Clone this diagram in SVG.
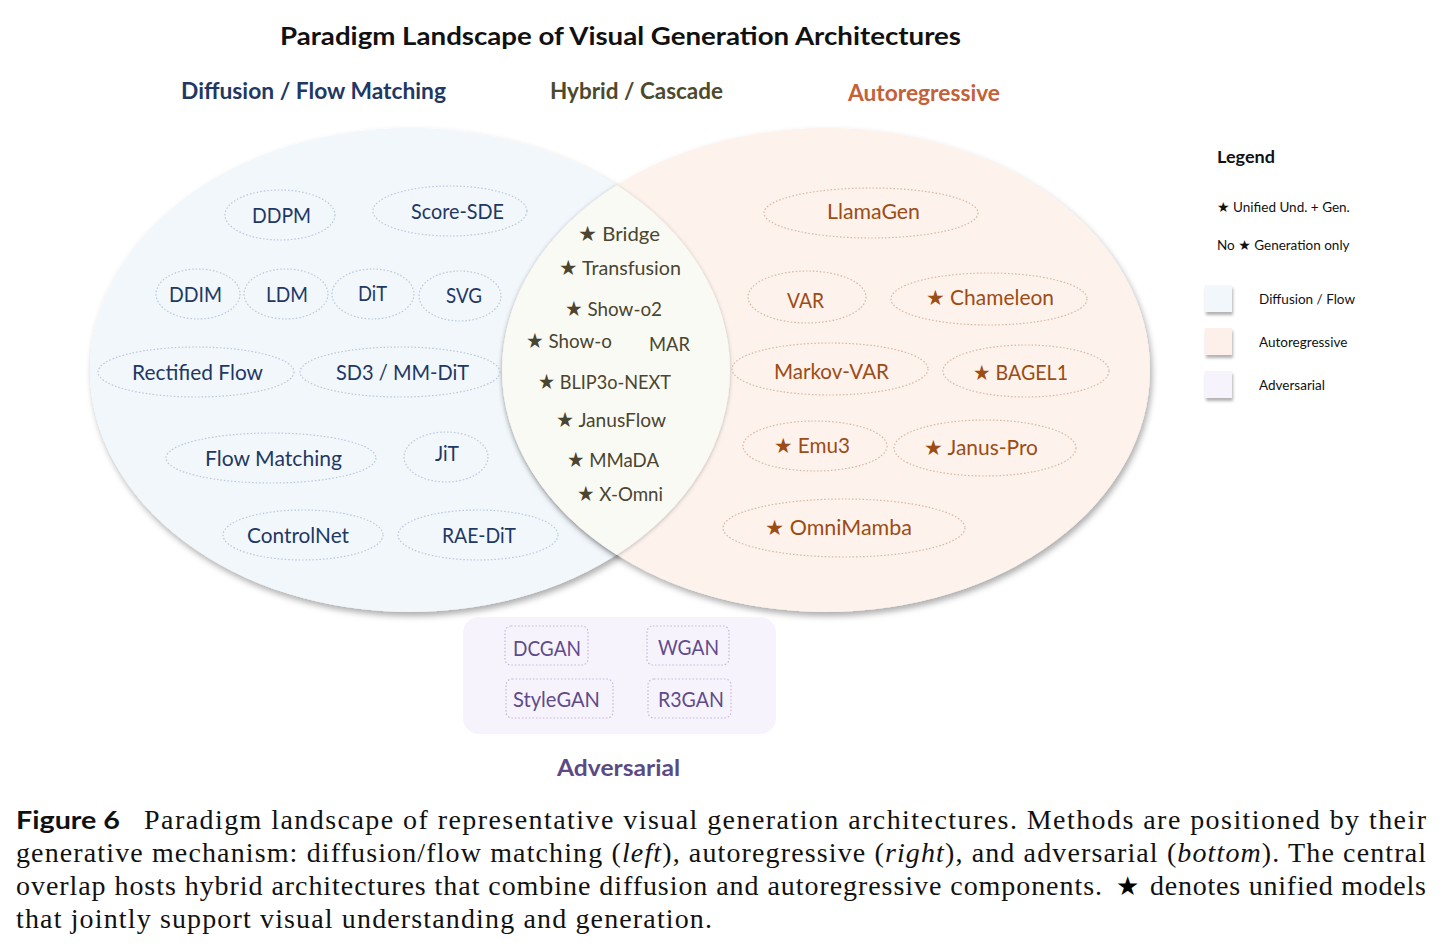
<svg xmlns="http://www.w3.org/2000/svg" width="1443" height="950" viewBox="0 0 1443 950">
<defs>
<filter id="sh" x="-10%" y="-10%" width="125%" height="130%"><feDropShadow dx="2" dy="4" stdDeviation="3" flood-color="#000" flood-opacity="0.32"/></filter>
<filter id="sh2" x="-20%" y="-10%" width="140%" height="125%"><feDropShadow dx="0" dy="1" stdDeviation="2" flood-color="#000" flood-opacity="0.25"/></filter>
<filter id="shs" x="-30%" y="-30%" width="170%" height="170%"><feDropShadow dx="1" dy="3" stdDeviation="1.5" flood-color="#000" flood-opacity="0.3"/></filter>
<style>
text{font-family:Lato,"DejaVu Sans",sans-serif}
.hd{font-weight:bold;font-size:22px}
.nl{fill:none;stroke:#b9c7d9;stroke-width:1.2;stroke-dasharray:1.5 2}
.nr{fill:none;stroke:#d8b6a2;stroke-width:1.2;stroke-dasharray:1.5 2}
.na{fill:none;stroke:#c3b8d6;stroke-width:1.2;stroke-dasharray:1.5 2}
.tl{fill:#1f3864;font-size:21px}
.tr{fill:#9c4c15;font-size:21px}
.tc{fill:#4a4530;font-size:20px}
.ta{fill:#5f4b8b;font-size:21px}
.st{font-family:"DejaVu Sans",sans-serif;font-size:21px}
.lst{font-family:"DejaVu Sans",sans-serif;font-size:14px}
.lg{fill:#111;font-size:13.5px}
.cap{font-family:"Liberation Serif",serif;font-size:28px;fill:#111}
</style>
</defs>
<rect width="1443" height="950" fill="#fff"/>

<g id="title">
<text x="280" y="45" font-size="25" font-weight="bold" fill="#111" textLength="681" lengthAdjust="spacingAndGlyphs">Paradigm Landscape of Visual Generation Architectures</text>
<text x="181" y="99" class="hd" fill="#1f3864" textLength="265" lengthAdjust="spacingAndGlyphs">Diffusion / Flow Matching</text>
<text x="550" y="99" class="hd" fill="#4d4a2c" textLength="173" lengthAdjust="spacingAndGlyphs">Hybrid / Cascade</text>
<text x="848" y="101" class="hd" fill="#c4603a" textLength="152" lengthAdjust="spacingAndGlyphs">Autoregressive</text>
</g>

<g id="regions">
<ellipse id="region-diffusion" cx="410" cy="370" rx="320" ry="242" fill="#f2f7fc" filter="url(#sh)"/>
<ellipse id="region-ar" cx="826" cy="370" rx="324" ry="242" fill="#fdf2ec" filter="url(#sh)"/>
<path id="region-hybrid" d="M 616.7 185.3 A 324 242 0 0 0 616.7 554.7 A 320 242 0 0 0 616.7 185.3 Z" fill="#fafaf4" filter="url(#sh2)"/>
</g>

<g id="connectors"></g>

<g id="diffusion-nodes">
<g id="n-ddpm"><ellipse class="nl" cx="280" cy="215" rx="55" ry="25"/><text class="tl" x="252" y="223" textLength="59" lengthAdjust="spacingAndGlyphs">DDPM</text></g>
<g id="n-scoresde"><ellipse class="nl" cx="450" cy="211" rx="77" ry="25"/><text class="tl" x="411" y="219" textLength="93" lengthAdjust="spacingAndGlyphs">Score-SDE</text></g>
<g id="n-ddim"><ellipse class="nl" cx="198" cy="294" rx="42" ry="25"/><text class="tl" x="169" y="302" textLength="53" lengthAdjust="spacingAndGlyphs">DDIM</text></g>
<g id="n-ldm"><ellipse class="nl" cx="286" cy="294" rx="42" ry="25"/><text class="tl" x="266" y="302" textLength="42" lengthAdjust="spacingAndGlyphs">LDM</text></g>
<g id="n-dit"><ellipse class="nl" cx="373" cy="294" rx="41" ry="25"/><text class="tl" x="358" y="301" textLength="29" lengthAdjust="spacingAndGlyphs">DiT</text></g>
<g id="n-svg"><ellipse class="nl" cx="460" cy="296" rx="41" ry="25"/><text class="tl" x="446" y="303" textLength="36" lengthAdjust="spacingAndGlyphs">SVG</text></g>
<g id="n-rectified"><ellipse class="nl" cx="196" cy="372" rx="98" ry="25"/><text class="tl" x="132" y="380" textLength="131" lengthAdjust="spacingAndGlyphs">Rectified Flow</text></g>
<g id="n-sd3"><ellipse class="nl" cx="400" cy="372" rx="100" ry="25"/><text class="tl" x="336" y="380" textLength="133" lengthAdjust="spacingAndGlyphs">SD3 / MM-DiT</text></g>
<g id="n-flowmatching"><ellipse class="nl" cx="271" cy="458" rx="105" ry="25"/><text class="tl" x="205" y="466" textLength="137" lengthAdjust="spacingAndGlyphs">Flow Matching</text></g>
<g id="n-jit"><ellipse class="nl" cx="446" cy="457" rx="42" ry="25"/><text class="tl" x="435" y="461" textLength="24" lengthAdjust="spacingAndGlyphs">JiT</text></g>
<g id="n-controlnet"><ellipse class="nl" cx="303" cy="535" rx="80" ry="25"/><text class="tl" x="247" y="543" textLength="102" lengthAdjust="spacingAndGlyphs">ControlNet</text></g>
<g id="n-raedit"><ellipse class="nl" cx="478" cy="535" rx="80" ry="25"/><text class="tl" x="442" y="543" textLength="74" lengthAdjust="spacingAndGlyphs">RAE-DiT</text></g>
</g>

<g id="hybrid-nodes">
<g id="n-bridge"><text class="tc" x="578" y="241" textLength="82" lengthAdjust="spacingAndGlyphs"><tspan class="st">★</tspan> Bridge</text></g>
<g id="n-transfusion"><text class="tc" x="559" y="275" textLength="122" lengthAdjust="spacingAndGlyphs"><tspan class="st">★</tspan> Transfusion</text></g>
<g id="n-showo2"><text class="tc" x="565" y="316" textLength="97" lengthAdjust="spacingAndGlyphs"><tspan class="st">★</tspan> Show-o2</text></g>
<g id="n-showo"><text class="tc" x="526" y="348" textLength="86" lengthAdjust="spacingAndGlyphs"><tspan class="st">★</tspan> Show-o</text></g>
<g id="n-mar"><text class="tc" x="649" y="351" textLength="41" lengthAdjust="spacingAndGlyphs">MAR</text></g>
<g id="n-blip3o"><text class="tc" x="538" y="389" textLength="133" lengthAdjust="spacingAndGlyphs"><tspan class="st">★</tspan> BLIP3o-NEXT</text></g>
<g id="n-janusflow"><text class="tc" x="556" y="427" textLength="110" lengthAdjust="spacingAndGlyphs"><tspan class="st">★</tspan> JanusFlow</text></g>
<g id="n-mmada"><text class="tc" x="567" y="467" textLength="92" lengthAdjust="spacingAndGlyphs"><tspan class="st">★</tspan> MMaDA</text></g>
<g id="n-xomni"><text class="tc" x="577" y="501" textLength="86" lengthAdjust="spacingAndGlyphs"><tspan class="st">★</tspan> X-Omni</text></g>
</g>

<g id="ar-nodes">
<g id="n-llamagen"><ellipse class="nr" cx="871" cy="213" rx="107" ry="25"/><text class="tr" x="827" y="219" textLength="93" lengthAdjust="spacingAndGlyphs">LlamaGen</text></g>
<g id="n-var"><ellipse class="nr" cx="807" cy="297" rx="59" ry="26"/><text class="tr" x="787" y="308" textLength="37" lengthAdjust="spacingAndGlyphs">VAR</text></g>
<g id="n-chameleon"><ellipse class="nr" cx="989" cy="299" rx="98" ry="26"/><text class="tr" x="926" y="305" textLength="128" lengthAdjust="spacingAndGlyphs"><tspan class="st">★</tspan> Chameleon</text></g>
<g id="n-markovvar"><ellipse class="nr" cx="830" cy="369" rx="98" ry="26"/><text class="tr" x="774" y="379" textLength="115" lengthAdjust="spacingAndGlyphs">Markov-VAR</text></g>
<g id="n-bagel"><ellipse class="nr" cx="1026" cy="371" rx="83" ry="26"/><text class="tr" x="973" y="380" textLength="95" lengthAdjust="spacingAndGlyphs"><tspan class="st">★</tspan> BAGEL1</text></g>
<g id="n-emu3"><ellipse class="nr" cx="815" cy="446" rx="72" ry="25"/><text class="tr" x="774" y="453" textLength="76" lengthAdjust="spacingAndGlyphs"><tspan class="st">★</tspan> Emu3</text></g>
<g id="n-januspro"><ellipse class="nr" cx="985" cy="448" rx="91" ry="28"/><text class="tr" x="924" y="455" textLength="114" lengthAdjust="spacingAndGlyphs"><tspan class="st">★</tspan> Janus-Pro</text></g>
<g id="n-omnimamba"><ellipse class="nr" cx="844" cy="528" rx="121" ry="29"/><text class="tr" x="765" y="535" textLength="147" lengthAdjust="spacingAndGlyphs"><tspan class="st">★</tspan> OmniMamba</text></g>
</g>

<g id="adversarial">
<rect x="463" y="617" width="313" height="117" rx="16" fill="#f7f3fd"/>
<g id="n-dcgan"><rect class="na" x="505" y="626" width="83" height="39" rx="6"/><text class="ta" x="513" y="656" textLength="68" lengthAdjust="spacingAndGlyphs">DCGAN</text></g>
<g id="n-wgan"><rect class="na" x="647" y="626" width="82" height="39" rx="6"/><text class="ta" x="658" y="655" textLength="61" lengthAdjust="spacingAndGlyphs">WGAN</text></g>
<g id="n-stylegan"><rect class="na" x="506" y="679" width="107" height="39" rx="6"/><text class="ta" x="513" y="707" textLength="87" lengthAdjust="spacingAndGlyphs">StyleGAN</text></g>
<g id="n-r3gan"><rect class="na" x="648" y="679" width="83" height="39" rx="6"/><text class="ta" x="658" y="707" textLength="66" lengthAdjust="spacingAndGlyphs">R3GAN</text></g>
<text x="557" y="776" class="hd" fill="#5b4a84" textLength="123" lengthAdjust="spacingAndGlyphs">Adversarial</text>
</g>

<g id="legend">
<text x="1217" y="163" font-size="17" font-weight="bold" fill="#111" textLength="58" lengthAdjust="spacingAndGlyphs">Legend</text>
<text class="lg" x="1217" y="212"><tspan class="lst">★</tspan>  Unified Und. + Gen.</text>
<text class="lg" x="1217" y="250">No <tspan class="lst">★</tspan>  Generation only</text>
<rect x="1205" y="285" width="27" height="27" fill="#f2f7fc" filter="url(#shs)"/>
<rect x="1205" y="328" width="27" height="27" fill="#fdf0ea" filter="url(#shs)"/>
<rect x="1205" y="371" width="27" height="27" fill="#f7f3fd" filter="url(#shs)"/>
<text class="lg" x="1259" y="304">Diffusion / Flow</text>
<text class="lg" x="1259" y="347">Autoregressive</text>
<text class="lg" x="1259" y="390">Adversarial</text>
</g>

<g id="caption">
<text x="16" y="829" font-family="Liberation Sans" font-weight="bold" font-size="25" fill="#111" textLength="104" lengthAdjust="spacingAndGlyphs">Figure 6</text>
<text class="cap" x="144" y="829" textLength="1282" lengthAdjust="spacing">Paradigm landscape of representative visual generation architectures.  Methods are positioned by their</text>
<text class="cap" x="16" y="862" textLength="1410" lengthAdjust="spacing">generative mechanism: diffusion/flow matching (<tspan font-style="italic">left</tspan>), autoregressive (<tspan font-style="italic">right</tspan>), and adversarial (<tspan font-style="italic">bottom</tspan>). The central</text>
<text class="cap" x="16" y="895" textLength="1086" lengthAdjust="spacing">overlap hosts hybrid architectures that combine diffusion and autoregressive components.</text>
<text x="1116" y="895" font-family="DejaVu Sans" font-size="26" fill="#000">★</text>
<text class="cap" x="1150" y="895" textLength="276" lengthAdjust="spacing">denotes unified models</text>
<text class="cap" x="16" y="928" textLength="696" lengthAdjust="spacing">that jointly support visual understanding and generation.</text>
</g>
</svg>
